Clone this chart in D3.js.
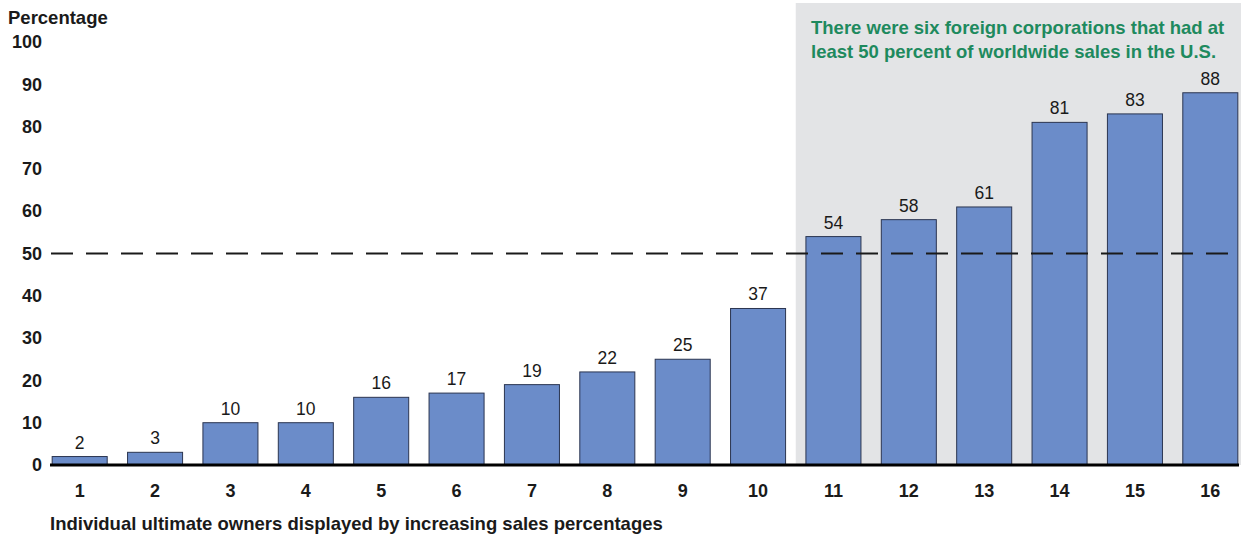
<!DOCTYPE html>
<meta charset="utf-8">
<script src="https://cdn.jsdelivr.net/npm/d3@7"></script>
<style>
  body { margin: 0; background: #fff; }
  text { font-family: "Liberation Sans", Arial, sans-serif; }
</style>
<body>
<script>
// chart data
var owners = ["1","2","3","4","5","6","7","8","9","10","11","12","13","14","15","16"];
var salesPct = [2, 3, 10, 10, 16, 17, 19, 22, 25, 37, 54, 58, 61, 81, 83, 88];
var yTicks = [0, 10, 20, 30, 40, 50, 60, 70, 80, 90, 100];
var threshold = 50;
var highlightFrom = "11";
var noteLines = ["There were six foreign corporations that had at",
                 "least 50 percent of worldwide sales in the U.S."];

var width = 1241, height = 538,
    baseY = 465;

var svg = d3.select("body").append("svg")
    .attr("width", width)
    .attr("height", height);

var x = d3.scaleBand()
    .domain(owners)
    .range([42, 1248])
    .paddingInner(0.27)
    .paddingOuter(0.135);

var y = d3.scaleLinear()
    .domain([0, 100])
    .range([baseY, 42]);

// grey panel behind the six high bars
var shadeX = x(highlightFrom) - x.step() * x.paddingInner() / 2;
svg.append("rect")
    .attr("x", shadeX)
    .attr("y", 3)
    .attr("width", width - shadeX)
    .attr("height", baseY - 3)
    .attr("fill", "#e3e4e6");

// note text
svg.append("g").selectAll("text").data(noteLines).enter().append("text")
    .attr("x", 811)
    .attr("y", function(d, i) { return 34 + i * 24; })
    .attr("fill", "#1e8a5e")
    .attr("font-weight", "bold")
    .attr("font-size", 18.5)
    .text(function(d) { return d; });

// bars
svg.append("g").selectAll("rect").data(salesPct).enter().append("rect")
    .attr("x", function(d, i) { return x(owners[i]); })
    .attr("y", function(d) { return y(d); })
    .attr("width", x.bandwidth())
    .attr("height", function(d) { return baseY - y(d); })
    .attr("fill", "#6b8cc9")
    .attr("stroke", "#2b3550")
    .attr("stroke-width", 1);

// value labels
svg.append("g").selectAll("text").data(salesPct).enter().append("text")
    .attr("x", function(d, i) { return x(owners[i]) + x.bandwidth() / 2; })
    .attr("y", function(d) { return y(d) - 8; })
    .attr("text-anchor", "middle")
    .attr("font-size", 17.5)
    .attr("fill", "#1a1a1a")
    .text(function(d) { return d; });

// dashed 50 percent line
svg.append("line")
    .attr("x1", 51).attr("x2", width)
    .attr("y1", y(threshold)).attr("y2", y(threshold))
    .attr("stroke", "#1a1a1a")
    .attr("stroke-width", 2)
    .attr("stroke-dasharray", "22,13");

// baseline
svg.append("line")
    .attr("x1", 50).attr("x2", 1239)
    .attr("y1", baseY).attr("y2", baseY)
    .attr("stroke", "#000")
    .attr("stroke-width", 3);

// y axis labels (no axis line)
var yAxis = d3.axisLeft(y).tickValues(yTicks).tickSize(0).tickPadding(0);
var gy = svg.append("g")
    .attr("transform", "translate(42,0)")
    .call(yAxis);
gy.select(".domain").remove();
gy.selectAll("text")
    .attr("font-size", 18)
    .attr("font-weight", "bold")
    .attr("fill", "#1a1a1a")
    .style("font-family", "'Liberation Sans', Arial, sans-serif");

// x axis labels
var xAxis = d3.axisBottom(x).tickSize(0).tickPadding(0);
var gx = svg.append("g")
    .attr("transform", "translate(0," + (baseY + 19) + ")")
    .call(xAxis);
gx.select(".domain").remove();
gx.selectAll("text")
    .attr("font-size", 18)
    .attr("font-weight", "bold")
    .attr("fill", "#1a1a1a")
    .style("font-family", "'Liberation Sans', Arial, sans-serif");

// axis titles
svg.append("text")
    .attr("x", 8).attr("y", 24)
    .attr("font-size", 18.5)
    .attr("font-weight", "bold")
    .attr("fill", "#1a1a1a")
    .text("Percentage");

svg.append("text")
    .attr("x", 50).attr("y", 530)
    .attr("font-size", 18.5)
    .attr("font-weight", "bold")
    .attr("fill", "#1a1a1a")
    .text("Individual ultimate owners displayed by increasing sales percentages");
</script>
</body>
